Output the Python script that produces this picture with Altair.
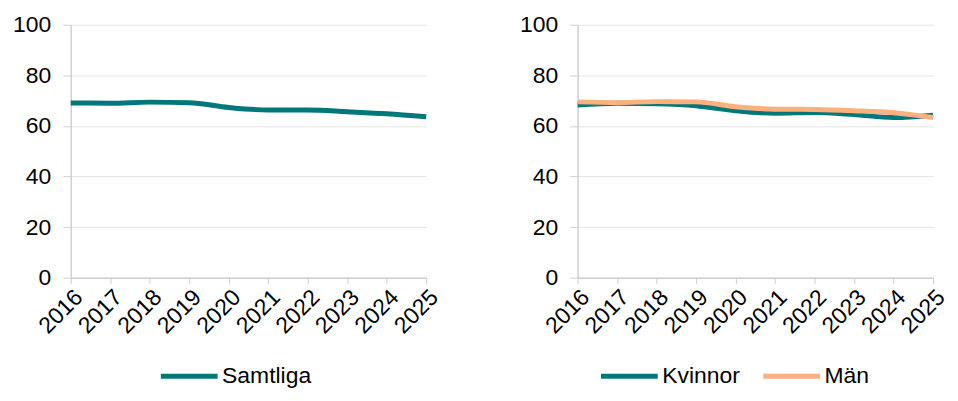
import altair as alt
import pandas as pd

years = list(range(2016, 2026))
samtliga = [69.1, 69.0, 69.4, 69.2, 67.3, 66.3, 66.3, 65.6, 64.8, 63.6]
kvinnor = [68.3, 69.0, 68.8, 68.0, 66.0, 65.0, 65.3, 64.5, 63.3, 64.2]
man = [69.5, 69.2, 69.6, 69.5, 67.6, 66.6, 66.5, 66.0, 65.2, 63.3]
y_ticks = [0, 20, 40, 60, 80, 100]

TEAL = "#00777A"
ORANGE = "#FBB07E"
FONT = "Liberation Sans"
FS = 23

left_df = pd.DataFrame({"year": years, "value": samtliga, "serie": ["Samtliga"] * len(years)})
right_df = pd.DataFrame({
    "year": years + years,
    "value": kvinnor + man,
    "serie": ["Kvinnor"] * len(years) + ["Män"] * len(years),
    "order": [0] * len(years) + [1] * len(years),
})

x_enc = alt.X("year:Q",
              scale=alt.Scale(domain=[2016, 2025], nice=False, zero=False),
              axis=alt.Axis(values=years, format="d", labelAngle=-45, title=None, grid=False,
                            labelFontSize=FS, labelFont=FONT, labelColor="#000000",
                            labelOverlap=False, labelBound=False, labelFlush=False,
                            tickSize=6, tickColor="#d0d0d0", domainColor="#d0d0d0", domainWidth=1.5,
                            labelPadding=2))
y_enc = alt.Y("value:Q",
              scale=alt.Scale(domain=[0, 100], nice=False),
              axis=alt.Axis(values=y_ticks, title=None, grid=True, gridColor="#e4e4e4",
                            labelFontSize=FS, labelFont=FONT, labelColor="#000000",
                            labelOverlap=False, labelFlush=False,
                            tickSize=8, tickColor="#d0d0d0", domainColor="#d0d0d0", domainWidth=1.5,
                            labelPadding=12))

W, H = 357, 254

legend_common = dict(orient="none", legendY=341, title=None, direction="horizontal",
                     symbolType="M-3,0H3", symbolStrokeWidth=5, symbolSize=361,
                     labelFontSize=FS, labelFont=FONT, labelColor="#000000",
                     labelOffset=21)

left = alt.Chart(left_df).mark_line(strokeWidth=5, interpolate="monotone").encode(
    x=x_enc, y=y_enc,
    color=alt.Color("serie:N", scale=alt.Scale(domain=["Samtliga"], range=[TEAL]),
                    legend=alt.Legend(legendX=107, **legend_common)),
).properties(width=W, height=H)

right = alt.Chart(right_df).mark_line(strokeWidth=5, interpolate="monotone").encode(
    x=x_enc, y=y_enc,
    order=alt.Order("order:Q"),
    color=alt.Color("serie:N", scale=alt.Scale(domain=["Kvinnor", "Män"], range=[TEAL, ORANGE]),
                    legend=alt.Legend(legendX=40, columns=2, columnPadding=13, **legend_common)),
).properties(width=W, height=H)

chart = alt.hconcat(left, right, spacing=76).resolve_scale(color="independent").resolve_legend(
    color="independent"
).properties(
    padding={"left": 4, "top": 5, "right": 0, "bottom": 0},
    background="white",
).configure_view(stroke=None)

chart.save("out.html", embed_options={"renderer": "svg", "actions": False})
